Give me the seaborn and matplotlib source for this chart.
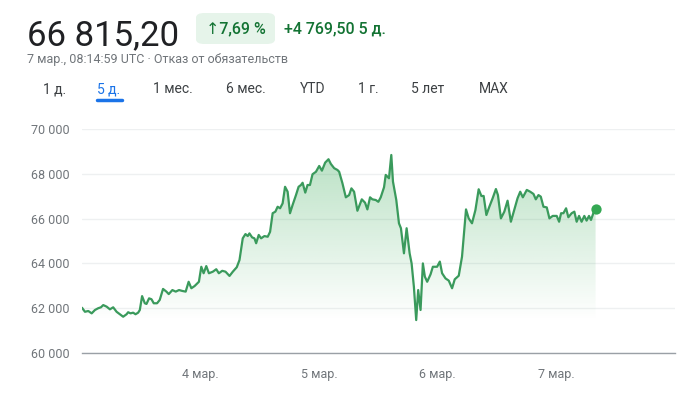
import numpy as np
import pandas as pd
import matplotlib
matplotlib.use("Agg")
import matplotlib.pyplot as plt
import seaborn as sns
from matplotlib.patches import FancyBboxPatch

# ---------------- data (hours since 3 Mar 00:00 UTC, price) ----------------
hours = [0, 0.6, 1.27, 1.96, 2.62, 3.29, 3.83, 4.3, 4.98, 5.65, 6.31, 7.0, 7.66, 8.33, 9.02,
         9.34, 9.82, 10.35, 10.83, 11.36, 11.7, 12.16, 12.71, 13.05, 13.57, 14.06, 14.52, 15.19,
         15.73, 16.4, 17.08, 17.55, 18.29, 18.96, 19.63, 20.31, 20.98, 21.58, 22.13, 22.79, 23.66,
         24.14, 24.61, 25.15, 25.68, 26.48, 27.17, 27.69, 28.38, 29.04, 29.85, 30.52, 31.32, 31.87,
         32.53, 33.08, 33.54, 33.88, 34.43, 34.89, 35.24, 35.76, 36.24, 36.91, 37.58, 38.06, 38.58,
         39.13, 39.59, 40.08, 40.6, 41.09, 41.61, 42.09, 42.62, 43.3, 43.83, 44.31, 44.64, 45.18,
         45.64, 46.13, 46.65, 47.34, 48.0, 48.55, 49.21, 49.88, 50.36, 51.03, 51.7, 52.04, 52.7,
         53.39, 54.05, 54.52, 55.06, 55.73, 56.62, 57.28, 57.75, 58.29, 58.76, 59.44, 59.97, 60.45,
         61.12, 61.46, 62.12, 62.59, 62.93, 63.6, 64.14, 64.54, 65.15, 65.69, 66.3, 66.7, 67.16,
         67.63, 68.03, 68.51, 68.98, 69.38, 69.85, 70.53, 71.0, 71.86, 72.41, 72.87, 73.56, 74.22,
         74.89, 75.43, 76.24, 76.9, 77.25, 77.71, 78.25, 78.92, 79.61, 80.27, 80.82, 81.28, 81.83,
         82.43, 83.1, 83.76, 84.17, 84.77, 85.46, 86.12, 86.79, 87.47, 88.14, 88.68, 89.21, 90.01,
         90.7, 91.36, 91.83, 92.37, 92.84, 93.38, 94.05, 94.59, 95.26, 96.06, 96.55, 96.95, 97.42,
         97.96, 98.42, 99.09, 99.63, 100.1, 100.58, 101.1, 101.65, 102.11, 102.6, 103.0, 103.47,
         103.93]
prices = [62020, 61840, 61875, 61770, 61920, 62000, 62040, 62140, 62070, 61950, 62040, 61840,
          61730, 61620, 61730, 61820, 61770, 61800, 61730, 61800, 61920, 62540, 62220, 62190,
          62440, 62400, 62220, 62220, 62370, 62860, 62740, 62630, 62810, 62740, 62810, 62770,
          62740, 63180, 62890, 62990, 63180, 63850, 63560, 63880, 63560, 63630, 63740, 63560,
          63670, 63630, 63440, 63630, 63830, 64150, 65120, 65310, 65220, 65340, 65160, 65120,
          64900, 65270, 65120, 65220, 65190, 65410, 66240, 66310, 66530, 66460, 66680, 67420,
          67200, 66240, 66610, 67050, 67420, 67500, 67600, 67160, 67500, 67500, 67980, 68090,
          68350, 68140, 68500, 68650, 68440, 68250, 68170, 68090, 67580, 66950, 67050, 67350,
          67200, 66350, 66860, 66710, 66410, 66950, 66860, 66830, 66750, 66950, 67400, 67950,
          67800, 68840, 67650, 66830, 65790, 65570, 64450, 65570, 64450, 64000, 62960, 61470,
          62810, 61920, 64000, 63410, 63180, 63510, 63850, 63850, 64080, 63560, 63330, 63230,
          62890, 63290, 63450, 64300, 65190, 66410, 66010, 65790, 66380, 67310, 67010, 67010,
          66160, 66530, 66910, 67320, 67050, 66010, 66310, 66800, 65860, 66380, 66910, 67200,
          66950, 67280, 67200, 67100, 66860, 67050, 66980, 66530, 66500, 66010, 66120, 66120,
          65860, 66240, 66240, 66460, 66060, 66240, 66310, 65860, 66120, 65860, 66120, 65910,
          66120, 65940, 66240, 66430]

y_ticks = [60000, 62000, 64000, 66000, 68000, 70000]
y_labels = ["60 000", "62 000", "64 000", "66 000", "68 000", "70 000"]
x_ticks = [24, 48, 72, 96]
x_labels = ["4 мар.", "5 мар.", "6 мар.", "7 мар."]
tabs = ["1 д.", "5 д.", "1 мес.", "6 мес.", "YTD", "1 г.", "5 лет", "MAX"]

df = pd.DataFrame({"hour": hours, "price": prices})

# ---------------- style ----------------
sns.set_style("white")
plt.rcParams["font.family"] = ["Roboto", "DejaVu Sans"]

LINE = "#3a9a5c"
DOT = "#34a853"
GRAY = "#70757a"

fig = plt.figure(figsize=(6.96, 3.93), dpi=100)
ax = fig.add_axes([82 / 696, 1 - 353 / 393, (675 - 82) / 696, (353 - 129) / 393])

# gradient fill under the line
ymin_fill = min(prices)
ymax_fill = max(prices)
grad = np.zeros((256, 2, 4))
rgb = matplotlib.colors.to_rgb(DOT)
grad[..., 0], grad[..., 1], grad[..., 2] = rgb
alpha = np.linspace(0.34, 0.0, 256)
grad[..., 3] = alpha[:, None]
poly = ax.fill_between(df["hour"], df["price"], ymin_fill, color="none", lw=0)
img = ax.imshow(grad, extent=[0, hours[-1], ymin_fill, ymax_fill], origin="upper",
                aspect="auto", zorder=1)
verts = poly.get_paths()[0]
img.set_clip_path(verts, transform=ax.transData)

sns.lineplot(data=df, x="hour", y="price", color=LINE, linewidth=1.6, ax=ax, zorder=3)
ax.scatter([hours[-1]], [prices[-1]], s=55, color=DOT, zorder=4, linewidths=0)

ax.set_xlim(0, 120)
ax.set_ylim(60000, 70000)
ax.set_yticks(y_ticks)
ax.set_yticklabels(y_labels)
ax.set_xticks(x_ticks)
ax.set_xticklabels(x_labels)
ax.set_xlabel("")
ax.set_ylabel("")
ax.grid(axis="y", color="#eef0f1", linewidth=1)
ax.grid(axis="x", visible=False)
for s in ["top", "right", "left"]:
    ax.spines[s].set_visible(False)
ax.spines["bottom"].set_color("#9aa0a6")
ax.spines["bottom"].set_linewidth(1)
ax.tick_params(axis="y", length=0, pad=9, labelsize=9, labelcolor=GRAY)
ax.tick_params(axis="x", length=4, width=1.5, color="#5f6368", direction="out",
               pad=7, labelsize=9, labelcolor=GRAY)

# ---------------- header ----------------
fig.text(27 / 696, 1 - 45 / 393, "66 815,20", fontsize=25, color="#202124",
         va="baseline", ha="left")
pill = FancyBboxPatch((196 / 696, 1 - 44 / 393), 79 / 696, 31 / 393,
                      boxstyle="round,pad=0,rounding_size=0.012",
                      transform=fig.transFigure, facecolor="#e6f4ea", edgecolor="none")
fig.patches.append(pill)
fig.text(236 / 696, 1 - 29 / 393, "↑7,69 %", fontsize=11.5, color="#137333",
         ha="center", va="center", fontweight="medium")
fig.text(284 / 696, 1 - 29 / 393, "+4 769,50 5 д.", fontsize=11.5, color="#137333",
         ha="left", va="center", fontweight="medium")
fig.text(27 / 696, 1 - 60 / 393, "7 мар., 08:14:59 UTC · Отказ от обязательств",
         fontsize=9, color=GRAY, ha="left", va="center")

tab_x = [43, 97, 153, 226, 300, 358, 411, 479]
for tx, lab in zip(tab_x, tabs):
    col = "#1a73e8" if lab == "5 д." else "#3c4043"
    fig.text(tx / 696, 1 - 89 / 393, lab, fontsize=10, color=col, ha="left",
             va="center")
fig.add_artist(plt.Line2D([97 / 696, 122 / 696], [1 - 100 / 393, 1 - 100 / 393],
                          transform=fig.transFigure, color="#1a73e8", linewidth=2.5,
                          solid_capstyle="round"))

fig.savefig("out.png", dpi=100)
